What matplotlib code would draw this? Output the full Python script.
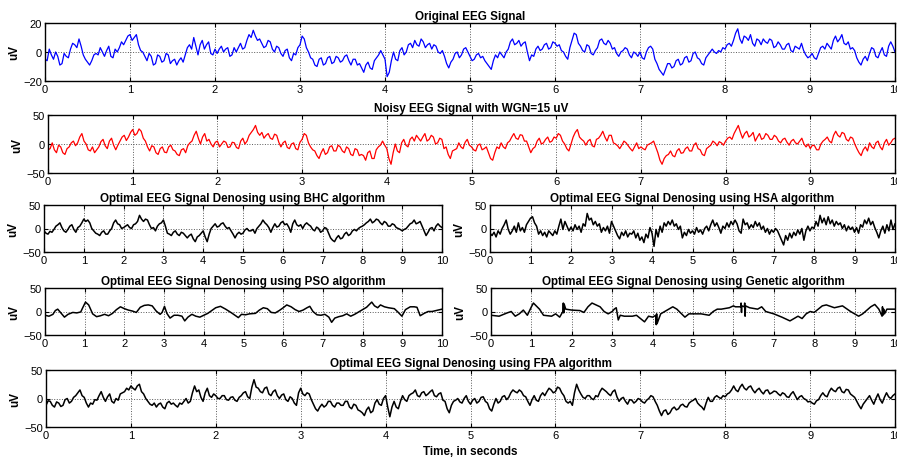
import numpy as np
import matplotlib
matplotlib.use('Agg')
import matplotlib.pyplot as plt

plt.rcParams['font.family'] = ['Liberation Sans', 'DejaVu Sans']

# sample times: 0.05 s grid, the in-between 0.025 points, and a 0.1 s grid
t_fine = np.round(np.arange(0, 10.0001, 0.05), 3)
t_half = np.round(np.arange(0.025, 10, 0.05), 3)
t_coarse = np.round(np.arange(0, 10.0001, 0.1), 2)
t_coarse_half = np.round(np.arange(0.05, 10, 0.1), 2)

original = [
    -5, 2, -5, -3, -8, -3, 2, 5, 9, -2, -7, -6, -1, 3, -3, 4, -4, 0, 7, 8,
    12, 10, 5, 0, -6, -3, -8, -3, -6, -2, -6, -9, -4, -2, 5, 10, -2, 8, 5, -1,
    2, 2, 0, 3, -2, 0, 6, 3, 12, 15, 8, 6, 4, 7, 0, 3, -3, 2, -6, -2,
    5, 9, 0, -5, -10, -4, -8, -3, -7, -4, -6, -2, -9, -5, -8, -14, -7, -12, -4, 1,
    -5, -14, 0, -6, 3, 0, 6, 8, 4, 7, 5, 2, 4, -1, -3, -11, -5, 0, -2, 3,
    -3, -5, -1, -3, -8, -12, -2, 0, -4, 2, 9, 6, 4, 7, -6, -3, 4, 2, 6, 3,
    6, 5, 0, -5, 8, 12, 4, 0, 4, -2, 3, 9, 5, 6, 3, -3, 1, 2, -4, -1,
    0, -5, 3, 2, -8, -14, -12, -8, -10, -5, -8, -3, -6, 0, -5, -9, -2, 2, -1, 0,
    2, 6, 8, 16, 6, 10, 12, 4, 8, 9, 6, 8, 4, 5, 2, 6, 0, 3, 6, -2,
    -3, -4, -1, 4, 6, 2, 11, 9, 6, 7, 3, -4, -9, -3, -1, 2, -4, 3, -3, 7,
    0,
]
original_mid = [
    -6, -2, 0, -9, -1, -4, 6, 3, 4, -5, -9, -2, -2, 0, 1, -3, 2, 3, 5, 11,
    8, 12, 1, -3, -1, -9, -2, -7, -1, -8, -5, -6, -7, 3, 2, 4, 5, 2, 7, -2,
    -1, 4, 2, -3, 3, 3, 2, 8, 10, 11, 9, 3, 8, 2, 4, -1, 1, -4, -1, 3,
    11, 3, -4, -9, -5, -9, -4, -8, -3, -7, -3, -6, -5, -9, -11, -9, -11, -6, -2, -2,
    -17, -6, -5, 1, -2, 5, 3, 5, 9, 3, 6, 5, 0, 1, -8, -7, -1, -4, 2, 0,
    -6, -2, -4, -6, -10, -6, -4, -2, 0, 7, 5, 8, 6, 0, -2, 2, 1, 5, 2, 7,
    4, 1, -3, 3, 13, 6, 1, 5, -1, 1, 8, 6, 8, 2, -1, 0, 3, -2, 0, -3,
    -4, 0, 4, -5, -12, -16, -8, -11, -6, -9, -4, -7, -1, -4, -8, -4, 0, 0, 1, 3,
    5, 4, 13, 9, 11, 8, 6, 9, 5, 7, 9, 3, 7, 2, 5, 1, 4, 2, 1, -4,
    -1, -5, 3, 2, 4, 8, 7, 12, 5, 2, 1, -7, -5, -6, 3, -3, 0, -2, 4, 4,
]

noisy = [
    -10, 2, -15, -5, -18, -5, 5, 2, 18, 0, -12, -15, -5, 8, -8, 10, -10, 5, 15, 12,
    25, 18, 22, 5, -12, -5, -18, -5, -15, -2, -12, -20, -8, -3, 5, 22, 0, 18, 8, -5,
    5, 0, 3, -5, 2, -8, 10, 5, 20, 32, 15, 10, 18, 8, 15, -5, 5, -8, 2, -10,
    8, 15, -5, -12, -25, -8, -15, -3, -12, -5, -15, -8, -20, -10, -18, -28, -12, -25, -5, 5,
    -8, -35, 0, -15, 8, -5, 12, 15, 5, 18, 8, 12, 2, 8, -5, -25, -10, 2, -8, 8,
    -5, -12, 0, -8, -15, -28, -5, 2, -8, 5, 18, 8, 15, 5, -15, -5, 10, 2, 12, 5,
    10, 15, 0, -12, 12, 25, 8, -2, 8, -5, 10, 22, 5, 15, 0, -8, 5, -3, -12, 2,
    -5, -10, 0, 5, -15, -35, -20, -12, -22, -8, -15, -5, -12, 2, -10, -20, -5, 5, -3, 2,
    5, 12, 18, 32, 10, 22, 15, 5, 18, 10, 15, 8, 12, 2, 10, -2, 8, 0, 10, -5,
    -8, -3, -10, 5, 12, 2, 22, 12, 18, 5, 10, -8, -20, -5, 2, -8, 5, -10, 8, 2,
    10,
]
noisy_mid = [
    -8, -10, -2, -15, -8, 2, -3, 12, 5, -10, -5, -10, 4, -3, 5, -2, -2, 12, 6, 20,
    15, 26, 10, -5, -3, -15, -8, -14, -5, -10, -18, -10, -15, 2, 15, 10, 12, 5, 0, 3,
    -5, 5, -6, 3, -6, 5, 0, 15, 25, 20, 20, 15, 10, 17, 3, 2, -6, 0, -8, 3,
    18, 2, -10, -20, -15, -18, -5, -12, -2, -12, -5, -18, -8, -20, -20, -15, -25, -10, -2, -2,
    -25, -15, -12, 2, -2, 8, 5, 10, 12, 5, 15, 0, 10, -8, -18, -12, -8, -5, 3, -2,
    -10, -2, -10, -5, -25, -15, -8, -5, 2, 12, 10, 16, 5, -5, -8, 5, 0, 8, 3, 12,
    18, 5, -8, 0, 20, 12, 5, 5, -3, 8, 15, 12, 15, 2, -3, -2, 2, -8, -5, -8,
    -8, -2, 2, -5, -28, -25, -18, -20, -12, -16, -8, -12, -2, -8, -18, -8, -2, 2, 4, -2,
    10, 8, 25, 20, 18, 12, 20, 12, 8, 18, 8, 15, 5, 8, 3, 5, 2, 5, 0, 0,
    -2, -10, 0, 8, 5, 15, 15, 20, 8, 12, 0, -15, -10, -12, -5, 2, -5, 2, -2, 8,
]

fpa = [
    -12, -5, -15, -8, -12, 0, -5, 5, 15, 2, -15, -10, -3, 12, -5, 8, -8, -3, 10, 18,
    22, 15, 25, 8, -5, -12, -15, -8, -18, -5, -8, -15, -10, 0, -5, 22, 15, -5, 18, 2,
    5, 0, 5, -3, 3, -5, 5, 12, 0, 33, 18, 10, 20, 5, 15, 0, 8, -5, 0, -12,
    18, 5, 8, -10, -22, -10, -12, -5, -15, -8, -12, -5, -18, -12, -22, -30, -15, -22, -2, -12,
    5, -32, -5, -18, 5, -5, 8, 15, 3, 12, 8, 15, 3, 10, -5, -25, -5, 0, -8, 5,
    -10, 0, -5, 3, -8, -22, 0, -5, 5, 2, 15, 10, 12, 3, -12, 5, -5, 10, 12, 15,
    12, 18, 5, -8, -12, 25, 8, 0, 5, -2, 3, 18, 12, 5, 15, -5, 2, -10, -3, -5,
    -2, -8, 0, 3, -12, -30, -20, -25, -15, -18, -10, -15, -5, 0, -12, -20, 2, -5, 5, 0,
    3, 10, 22, 12, 25, 15, 22, 10, 18, 8, 15, 10, 12, 5, 8, 2, 12, -2, 5, -2,
    -5, -10, -2, 10, 3, 18, 12, 20, 10, 15, 5, -5, -18, -5, 5, -10, 8, -8, 10, 0,
    8,
]
fpa_mid = [
    -4, -12, -6, -14, -2, -8, 2, 10, 5, -8, -8, -2, 5, 2, 3, -5, 0, 8, 12, 15,
    18, 22, 12, 0, -10, -8, -10, -15, -8, -10, -12, -8, -5, -8, 10, 12, 2, 10, 5, 8,
    0, 5, -2, 2, -3, 2, 10, 3, 20, 20, 12, 18, 8, 12, 5, 6, -2, 3, -8, 10,
    8, 10, -2, -18, -15, -15, -5, -12, -8, -12, -5, -15, -10, -20, -25, -20, -25, -8, -10, 0,
    -15, -15, -15, -5, -2, 5, 10, 5, 10, 5, 12, 5, 8, -3, -18, -12, -3, -6, 0, -5,
    -3, -8, 2, -5, -18, -10, -8, 3, -2, 10, 12, 15, 5, -5, -2, -3, 5, 5, 18, 10,
    20, 10, -5, -5, 10, 15, 2, 5, 0, 5, 12, 15, 8, 12, 3, 0, -5, -2, -8, 0,
    -6, -3, 5, -5, -22, -22, -28, -18, -20, -12, -14, -8, -3, -8, -15, -8, -5, 2, 2, 5,
    8, 15, 15, 20, 18, 20, 15, 15, 12, 14, 8, 13, 8, 10, 3, 8, 5, 3, 0, -6,
    -8, -4, 5, 5, 12, 14, 18, 12, 16, 8, 2, -12, -10, 0, -3, 0, -2, 2, 3, 5,
]

hsa = [
    -10, -15, -8, -18, -5, -12, 0, 8, 18, -2, -12, -5, 5, -8, 12, -5, 2, -8, 8, 15,
    22, 25, 12, 5, -12, -5, -15, -8, -18, -5, -10, -15, -5, -12, 5, 20, -2, 15, 5, -5,
    3, -5, 8, -2, 5, -8, 10, 5, 32, 18, 22, 8, 15, 5, 10, -8, 2, -5, 5, -10,
    15, 5, -5, -15, -22, -8, -15, -5, -18, -10, -12, -5, -20, -10, -25, -18, -30, -12, -20, 2,
    -10, -38, -2, -18, 5, -8, 12, 5, 15, 8, 18, 5, 10, -2, 5, -20, -8, -15, -2, -10,
    -5, -12, 2, -8, -3, -12, 0, 5, -5, 8, 18, 5, 12, 2, -10, 5, 0, 12, 3, 15,
    8, 18, 10, -5, -10, 20, 8, 12, 0, 8, 2, 15, 5, 12, -2, 5, -8, 0, -12, -3,
    -8, 0, -5, -15, -25, -35, -15, -25, -10, -20, -8, -15, -3, -12, 0, -25, -5, 5, -5, 3,
    0, 15, 5, 28, 12, 22, 8, 25, 10, 18, 5, 15, 8, 12, 0, 8, -5, 5, -2, 3,
    -8, 2, -10, 8, 3, 18, 10, 22, 8, 15, 2, -8, -20, -5, 5, -10, 8, -5, 18, -2,
    10,
]

bhc = [
    -5, -12, -8, 5, 12, -5, -2, 8, -8, 5,
    20, 18, 0, -10, -15, -5, -12, 0, 18, 8,
    2, 8, 0, 10, 28, 15, 18, 0, -5, 10,
    18, -10, -15, -5, -15, -10, -20, -12, -28, -15,
    -5, -28, 0, 10, 5, 12, 0, -5, -20, -8,
    -10, 0, -5, -10, 5, 18, 8, -8, 10, 5,
    15, 10, -8, 18, 5, 0, 12, 5, -5, 0,
    -5, 0, -20, -28, -15, -20, -8, -12, -2, 0,
    5, 12, 20, 15, 18, 8, 12, 5, 8, 0,
    -5, 0, 10, 18, 12, 5, -15, 0, -5, 10,
    2,
]
bhc_mid = [
    -10, -6, -2, 8, 2, -8, 5, -2, 2, 12,
    15, 12, -5, -12, -8, -12, -5, 12, 10, 0,
    5, 2, 8, 15, 20, 20, 8, 2, 5, 12,
    5, -12, -8, -12, -8, -15, -15, -22, -18, -10,
    -18, -12, 5, 3, 10, 5, 2, -12, -12, -12,
    -3, -5, -2, 0, 10, 12, 2, 2, 3, 12,
    8, 3, 10, 8, 8, 8, 8, -2, 3, -8,
    2, -10, -25, -20, -22, -12, -15, -5, -5, 3,
    8, 15, 12, 20, 12, 15, 5, 10, 2, -2,
    -2, 5, 12, 10, 15, -5, -8, 2, 5, 5,
]

t_pso = [
    0.0, 0.1, 0.2, 0.26, 0.32, 0.4, 0.49, 0.58, 0.7, 0.8, 0.9, 0.95, 1.02, 1.1,
    1.2, 1.3, 1.4, 1.5, 1.6, 1.7, 1.8, 1.9, 2.0, 2.1, 2.2, 2.3, 2.4, 2.5, 2.6,
    2.7, 2.8, 2.9, 2.95, 3.01, 3.07, 3.15, 3.25, 3.35, 3.45, 3.52, 3.6, 3.7,
    3.8, 3.9, 4.0, 4.1, 4.2, 4.3, 4.42, 4.55, 4.7, 4.87, 4.95, 5.05, 5.15, 5.3,
    5.4, 5.5, 5.6, 5.7, 5.8, 5.9, 6.0, 6.09, 6.2, 6.3, 6.4, 6.5, 6.6, 6.67,
    6.75, 6.85, 6.95, 7.05, 7.15, 7.22, 7.3, 7.4, 7.5, 7.6, 7.7, 7.8, 7.9,
    8.0, 8.1, 8.23, 8.3, 8.38, 8.45, 8.55, 8.65, 8.8, 8.9, 8.99, 9.08, 9.2,
    9.3, 9.37, 9.45, 9.55, 9.65, 9.75, 9.85, 9.95, 10.0,
]
pso = [
    -8, -10, -6, 2, 5, -3, -12, -6, -2, -3, -1, 8, 20, 14,
    -5, -11, -9, -6, -9, -4, 4, 10, 6, 3, 1, -2, 9, 13, 14,
    12, 1, -6, -2, 11, -4, -14, -8, -8, -10, -20, -12, -6,
    -10, -12, -8, -4, 2, 8, 11, 5, -3, -13, -6, -7, -5, -4,
    3, 8, 6, -2, -3, 2, 8, 14, 10, 4, 0, 3, 8, 11,
    0, -7, -8, -6, -12, -23, -14, -11, -9, -5, -10, -6, -1,
    4, 9, 20, 12, 8, 14, 10, 8, 6, -2, -10, 4, 10,
    10, 9, -9, -4, 0, 0, 2, 4, 5,
]

# genetic result has short spikes, so it gets its own time points
t_genetic = [
    0.0, 0.2, 0.4, 0.5, 0.6, 0.7, 0.8, 0.9, 1.0, 1.05, 1.2, 1.3, 1.5, 1.6, 1.7,
    1.78, 1.79, 1.8, 1.81, 1.85, 2.0, 2.2, 2.3, 2.4, 2.5, 2.6, 2.7, 2.8,
    2.9, 3.0, 3.05, 3.1, 3.15, 3.2, 3.3, 3.5, 3.6, 3.8, 3.9, 4.0, 4.08, 4.09,
    4.1, 4.11, 4.2, 4.4, 4.5, 4.6, 4.8, 4.9, 5.2, 5.4, 5.5, 5.6, 5.7,
    5.9, 6.0, 6.05, 6.18, 6.19, 6.2, 6.21, 6.27, 6.28, 6.29, 6.3, 6.4, 6.6, 6.7,
    6.8, 7.0, 7.2, 7.4, 7.6, 7.7, 7.8, 7.9, 8.0, 8.2, 8.3, 8.5, 8.7, 8.9, 9.1,
    9.2, 9.4, 9.5, 9.6, 9.68, 9.69, 9.7, 9.72, 9.74, 9.8, 10.0,
]
genetic = [
    -8, -10, -3, 0, -10, -5, 3, -8, 10, 18, 5, -8, -10, -5, -12,
    0, 18, -3, 16, 5, 3, 2, -2, 10, 18, 14, 10, 0,
    -5, 0, 5, 8, -18, -8, -10, -10, -8, -22, -10, -12, -8, -28,
    -5, -26, -5, 5, 10, 5, -12, -5, -5, -8, 0, 5, 5,
    8, 12, 10, 10, 18, -2, 12, 10, 18, -10, 12, 8, 5, 10,
    0, -5, -12, -20, -10, -15, -5, 0, -2, 12, 14, 8, 12, 0, -10,
    -5, 10, 15, 5, -10, 10, -8, 5, -5, 5, 5,
]


def merge(t_a, y_a, t_b, y_b):
    t = np.concatenate([t_a, t_b])
    y = np.concatenate([y_a, y_b])
    order = np.argsort(t)
    return t[order], y[order]


orig_t, orig_y = merge(t_fine, original, t_half, original_mid)
noisy_t, noisy_y = merge(t_fine, noisy, t_half, noisy_mid)
fpa_t, fpa_y = merge(t_fine, fpa, t_half, fpa_mid)
bhc_t, bhc_y = merge(t_coarse, bhc, t_coarse_half, bhc_mid)

panels = [
    # (left, top, right, bottom) in pixels, title, t, y, color, ylim, lw
    ((45, 24, 895, 82), 'Original EEG Signal', orig_t, orig_y, 'blue', 20, 0.9),
    ((48, 116, 895, 174), 'Noisy EEG Signal with WGN=15 uV', noisy_t, noisy_y, 'red', 50, 0.9),
    ((44, 206, 442, 253), 'Optimal EEG Signal Denosing using BHC algorithm', bhc_t, bhc_y, 'black', 50, 1.1),
    ((490, 206, 895, 253), 'Optimal EEG Signal Denosing using HSA algorithm', t_fine, hsa, 'black', 50, 1.1),
    ((45, 289, 442, 336), 'Optimal EEG Signal Denosing using PSO algorithm', t_pso, pso, 'black', 50, 1.1),
    ((491, 289, 895, 336), 'Optimal EEG Signal Denosing using Genetic algorithm', t_genetic, genetic, 'black', 50, 1.1),
    ((46, 371, 895, 428), 'Optimal EEG Signal Denosing using FPA algorithm', fpa_t, fpa_y, 'black', 50, 1.1),
]

W, H = 897, 460
fig = plt.figure(figsize=(W / 100, H / 100), dpi=100)

for (l, tp, r, b), title, t, y, color, lim, lw in panels:
    ax = fig.add_axes([l / W, (H - b) / H, (r - l) / W, (b - tp) / H])
    ax.plot(t, y, color=color, lw=lw)
    ax.set_xlim(0, 10)
    ax.set_ylim(-lim, lim)
    ax.set_xticks(range(11))
    ax.set_yticks([-lim, 0, lim])
    ax.grid(True, linestyle=':', color='0.35', lw=0.7)
    ax.tick_params(direction='in', top=True, right=True, labelsize=8, length=3, pad=2)
    ax.set_title(title, fontsize=8.4, fontweight='bold', pad=3)
    ax.set_ylabel('uV', fontsize=8.4, fontweight='bold', labelpad=2)
    for s in ax.spines.values():
        s.set_linewidth(1.0)

fig.text(0.5 * (46 + 895) / W, 1 - 452 / H, 'Time, in seconds', ha='center', va='center',
         fontsize=8.4, fontweight='bold')

fig.savefig('out.png', dpi=100)
